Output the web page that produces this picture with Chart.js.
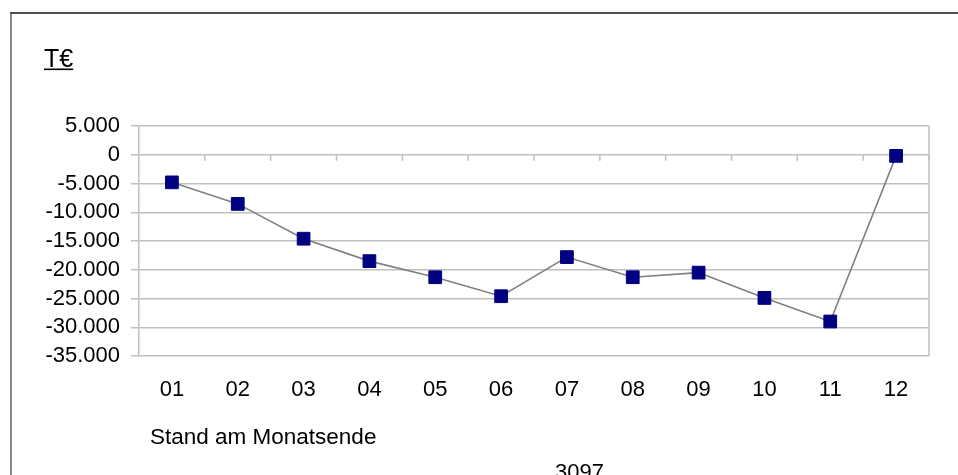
<!DOCTYPE html>
<html>
<head>
<meta charset="utf-8">
<script src="https://cdn.jsdelivr.net/npm/chart.js@4.4.0/dist/chart.umd.min.js"></script>
<style>
html, body { margin: 0; padding: 0; background: #fff; }
#wrap { width: 958px; height: 475px; position: relative; }
</style>
</head>
<body>
<div id="wrap"><canvas id="chart"></canvas></div>
<script>
// data (T€, Stand am Monatsende)
const months = ['01', '02', '03', '04', '05', '06', '07', '08', '09', '10', '11', '12']
const balance = [-4800, -8550, -14600, -18500, -21300, -24600, -17800, -21300, -20500, -24900, -29000, -200]
const yMin = -35000
const yMax = 5000
const yStep = 5000
const unitLabel = 'T€'
const xTitle = 'Stand am Monatsende'
const footNote = '3097'

const FONT = "'Liberation Sans', Arial, sans-serif"
const GRID = '#c0c0c0'

// 5000 -> "5.000", -35000 -> "-35.000"
function formatDe(v) {
    var s = Math.abs(v).toString().replace(/\B(?=(\d{3})+(?!\d))/g, '.')
    return (v < 0 ? '-' : '') + s
}

var decorPlugin = {
    id: 'decor',
    beforeDraw(chart) {
        var ctx = chart.ctx
        ctx.save()
        ctx.fillStyle = '#fff'
        ctx.fillRect(0, 0, chart.width, chart.height)
        // outer frame (only left and top are inside the picture)
        ctx.lineWidth = 2
        ctx.strokeStyle = '#888'
        ctx.beginPath()
        ctx.moveTo(11, 13)
        ctx.lineTo(11, chart.height)
        ctx.stroke()
        ctx.strokeStyle = '#505050'
        ctx.beginPath()
        ctx.moveTo(10, 13)
        ctx.lineTo(chart.width, 13)
        ctx.stroke()
        ctx.restore()
    },
    beforeDatasetsDraw(chart) {
        var ctx = chart.ctx
        var area = chart.chartArea
        var xs = chart.scales.x
        var ys = chart.scales.y
        ctx.save()
        ctx.strokeStyle = GRID
        ctx.lineWidth = 1.5
        // right side of plot frame
        ctx.beginPath()
        ctx.moveTo(area.right, area.top)
        ctx.lineTo(area.right, area.bottom)
        ctx.stroke()
        // category ticks hanging off the zero line
        var y0 = ys.getPixelForValue(0)
        var half = (xs.getPixelForValue(1) - xs.getPixelForValue(0)) / 2
        for (var i = 0; i < months.length; i++) {
            var bx = xs.getPixelForValue(i) + half
            ctx.beginPath()
            ctx.moveTo(bx, y0)
            ctx.lineTo(bx, y0 + 6)
            ctx.stroke()
        }
        ctx.restore()
    },
    afterDraw(chart) {
        var ctx = chart.ctx
        ctx.save()
        ctx.fillStyle = '#000'
        ctx.textAlign = 'left'
        ctx.textBaseline = 'alphabetic'
        ctx.font = '25px ' + FONT
        ctx.fillText(unitLabel, 44, 67)
        var w = ctx.measureText(unitLabel).width
        ctx.fillRect(44, 68.5, w, 1.6)
        ctx.font = '22.5px ' + FONT
        ctx.fillText(xTitle, 150, 443.5)
        ctx.font = '22px ' + FONT
        ctx.fillText(footNote, 555, 479)
        ctx.restore()
    }
}

function main() {
    var ctx = document.getElementById('chart').getContext('2d')
    new Chart(ctx, {
        type: 'line',
        data: {
            labels: months,
            datasets: [{
                data: balance,
                borderColor: '#808080',
                borderWidth: 1.6,
                pointStyle: 'rect',
                pointRadius: 9,
                pointHoverRadius: 9,
                pointBackgroundColor: '#000080',
                pointBorderColor: '#000080',
                pointBorderWidth: 1,
                tension: 0,
                fill: false
            }]
        },
        options: {
            responsive: true,
            maintainAspectRatio: false,
            animation: false,
            layout: { padding: { left: 10, right: 29, top: 126, bottom: 0 } },
            plugins: {
                legend: { display: false },
                tooltip: { enabled: false }
            },
            scales: {
                x: {
                    type: 'category',
                    offset: true,
                    grid: { display: false, drawTicks: false },
                    border: { display: false },
                    ticks: {
                        color: '#000',
                        padding: 21,
                        maxRotation: 0,
                        autoSkip: false,
                        font: { family: FONT, size: 22 }
                    },
                    afterFit(scale) { scale.height = 119 }
                },
                y: {
                    min: yMin,
                    max: yMax,
                    grid: { color: GRID, lineWidth: 1.5, tickLength: 8, drawTicks: true },
                    border: { display: true, color: GRID, width: 1.5 },
                    ticks: {
                        stepSize: yStep,
                        autoSkip: false,
                        color: '#000',
                        padding: 11,
                        font: { family: FONT, size: 22, lineHeight: 1 },
                        callback: function (v) { return formatDe(v) }
                    },
                    afterFit(scale) { scale.width = 129 }
                }
            }
        },
        plugins: [decorPlugin]
    })
}

window.onload = main
</script>
</body>
</html>
